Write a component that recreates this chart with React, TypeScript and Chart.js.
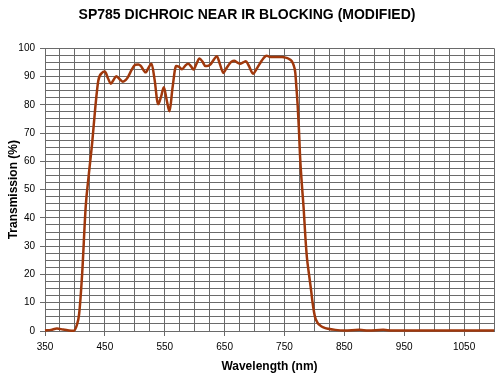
import React, { useEffect, useRef } from "react";
import { Chart, registerables } from "chart.js";

Chart.register(...registerables);

const wavelengths: number[] = [
  350, 360, 370, 380, 390, 398, 403, 407, 412, 418, 423, 429, 434, 439, 445, 450,
  455, 460, 465, 469, 474, 480, 485, 489, 495, 501, 506, 510, 518, 524, 528, 533,
  539, 544, 548.5, 553, 558, 563, 569, 574, 579, 584, 589, 594, 598, 603, 608, 613,
  618, 622, 626, 632, 637, 642, 648, 652, 657, 662, 666, 671, 676, 681, 685.5, 690,
  698, 703, 709.5, 715, 720, 725, 730, 740, 746, 752, 757, 762, 765, 768, 770, 772,
  774, 776, 779, 782, 785, 787.5, 791, 794.5, 797, 801, 805, 809.5, 815, 823, 835,
  850, 875, 890, 915, 930, 1000, 1050, 1100,
];
const transmission: number[] = [
  0.2, 0.4, 0.9, 0.5, 0.2, 0.1, 2, 6, 20, 44, 55, 67, 79, 88.5, 91.3, 91.8,
  89.5, 87.5, 89, 90.1, 89.2, 88.2, 88.8, 90, 92.5, 94.2, 94.3, 93.8, 91.5, 93.5, 94.5, 89,
  80.2, 83, 86.2, 82, 77.7, 86, 93.7, 93.4, 92.6, 93.8, 94.5, 93.6, 92.5, 94.5, 96.4, 95.3,
  93.7, 93.8, 94.2, 96, 97.2, 94.5, 91.3, 92.6, 94.2, 95.3, 95.6, 95, 94.5, 95, 95.4, 94,
  91, 92.6, 94.8, 96.5, 97.4, 97, 96.9, 96.9, 96.9, 96.7, 96.3, 95.5, 94.2, 91.5, 86, 80,
  72, 62, 52, 43.5, 33, 26, 20, 14.4, 10, 5, 3, 2, 1.3, 0.8, 0.4,
  0.2, 0.4, 0.2, 0.4, 0.2, 0.2, 0.2, 0.2,
];

const titleText = "SP785 DICHROIC NEAR IR BLOCKING (MODIFIED)";
const xTitle = "Wavelength (nm)";
const yTitle = "Transmission (%)";

export default function App() {
  const ref = useRef<HTMLCanvasElement | null>(null);

  useEffect(() => {
    document.body.style.margin = "0";
    const canvas = ref.current;
    if (!canvas) return;
    const font = "'Liberation Sans', Arial, sans-serif";
    const gridColor = "#6a6a6a";
    const chart = new Chart(canvas, {
      type: "line",
      data: {
        datasets: [
          {
            data: wavelengths.map((w, i) => ({ x: w, y: transmission[i] })),
            borderColor: "#A0380C",
            backgroundColor: "#A0380C",
            borderWidth: 2.5,
            pointRadius: 0,
            cubicInterpolationMode: "monotone",
            clip: 5,
          } as any,
        ],
      },
      options: {
        responsive: false,
        animation: false,
        layout: { padding: { left: 0, right: 6, top: 0, bottom: 0 } },
        plugins: {
          legend: { display: false },
          tooltip: { enabled: false },
          title: {
            display: true,
            text: titleText,
            color: "#000",
            font: { family: font, size: 14, weight: "bold" },
            padding: { top: 7, bottom: 24.5 },
          },
        },
        scales: {
          x: {
            type: "linear",
            min: 350,
            max: 1100,
            afterFit: (s: any) => {
              s.height = 44;
            },
            ticks: {
              stepSize: 25,
              autoSkip: false,
              maxRotation: 0,
              padding: 5,
              color: "#000",
              font: { family: font, size: 10 },
              callback: (v: any) => ((Number(v) - 350) % 100 === 0 ? String(v) : ""),
            },
            grid: {
              color: gridColor,
              lineWidth: 1,
              tickLength: 5,
              tickColor: (ctx: any) =>
                ctx.tick && (ctx.tick.value - 350) % 100 === 0 ? gridColor : "rgba(0,0,0,0)",
            },
            border: { color: gridColor },
            title: {
              display: true,
              text: xTitle,
              color: "#000",
              font: { family: font, size: 12, weight: "bold" },
              padding: { top: 0, bottom: 1.5 },
            },
          },
          y: {
            type: "linear",
            min: 0,
            max: 100,
            afterFit: (s: any) => {
              s.width = 45;
            },
            ticks: {
              stepSize: 2.5,
              autoSkip: false,
              padding: 5,
              color: "#000",
              font: { family: font, size: 10 },
              callback: (v: any) => (Number(v) % 10 === 0 ? String(v) : ""),
            },
            grid: {
              color: gridColor,
              lineWidth: 1,
              tickLength: 5,
              tickColor: (ctx: any) =>
                ctx.tick && ctx.tick.value % 10 === 0 ? gridColor : "rgba(0,0,0,0)",
            },
            border: { color: gridColor },
            title: {
              display: true,
              text: yTitle,
              color: "#000",
              font: { family: font, size: 12, weight: "bold" },
              padding: { top: 6, bottom: 0 },
            },
          },
        },
      },
    });
    return () => chart.destroy();
  }, []);

  return (
    <div style={{ width: 500, height: 375, background: "#fff" }}>
      <canvas ref={ref} width={500} height={375} style={{ display: "block" }} />
    </div>
  );
}
